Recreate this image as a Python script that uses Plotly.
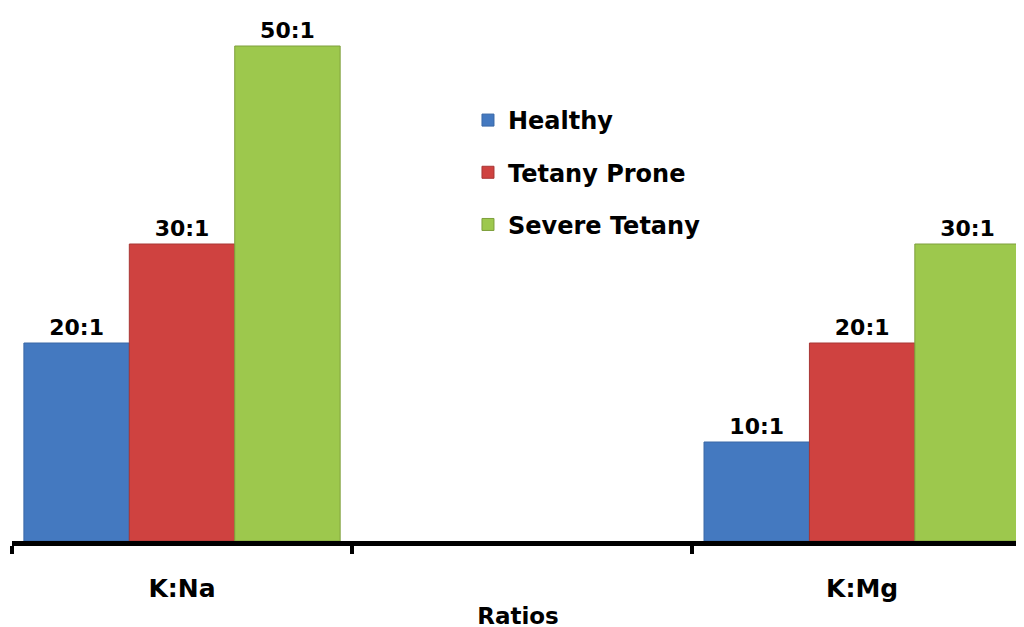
import plotly.graph_objects as go

categories = ["K:Na", " ", "K:Mg"]
healthy = [20, None, 10]
tetany_prone = [30, None, 20]
severe_tetany = [50, None, 30]
series_names = ["Healthy", "Tetany Prone", "Severe Tetany"]
colors = ["#4479C0", "#CF4240", "#9DC84D"]
edge_colors = ["#3A68A6", "#A83634", "#7E9F3C"]

FONT = "DejaVu Sans"

fig = go.Figure()
for name, vals, col, ecol in zip(series_names, [healthy, tetany_prone, severe_tetany], colors, edge_colors):
    fig.add_trace(go.Bar(
        x=categories, y=vals, name=name, legendgroup=name,
        marker=dict(color=col, line=dict(color=ecol, width=1)),
        text=[f"{v}:1" if v is not None else "" for v in vals],
        textposition="outside", cliponaxis=False, constraintext="none",
        textfont=dict(family=FONT, size=22, color="black", weight="bold"),
    ))

fig.update_layout(
    width=1024, height=627,
    margin=dict(l=4, r=8, t=8, b=94, autoexpand=False),
    paper_bgcolor="white", plot_bgcolor="white",
    barmode="group", bargap=0.07, bargroupgap=0,
    font=dict(family=FONT, color="black"),
    legend=dict(
        xref="container", yref="container", x=0.4492, y=0.8565,
        xanchor="left", yanchor="top",
        font=dict(family=FONT, size=24, color="black", weight="bold"),
        tracegroupgap=18, traceorder="grouped",
        bgcolor="rgba(0,0,0,0)",
    ),
    xaxis=dict(
        type="category", categoryorder="array", categoryarray=categories,
        range=[-0.5, 2.476],
        showline=True, linecolor="black", linewidth=5,
        ticks="outside", tickson="boundaries", ticklen=8, tickwidth=4, tickcolor="black",
        tickfont=dict(family=FONT, size=25, color="black", weight="bold"),
        ticklabelstandoff=21,
        showgrid=False, zeroline=False,
        title=dict(text="Ratios", font=dict(family=FONT, size=23, color="black", weight="bold"), standoff=0),
    ),
    yaxis=dict(
        range=[0, 53.03], visible=False, showgrid=False, zeroline=False,
    ),
)

fig.write_html("out.html")
